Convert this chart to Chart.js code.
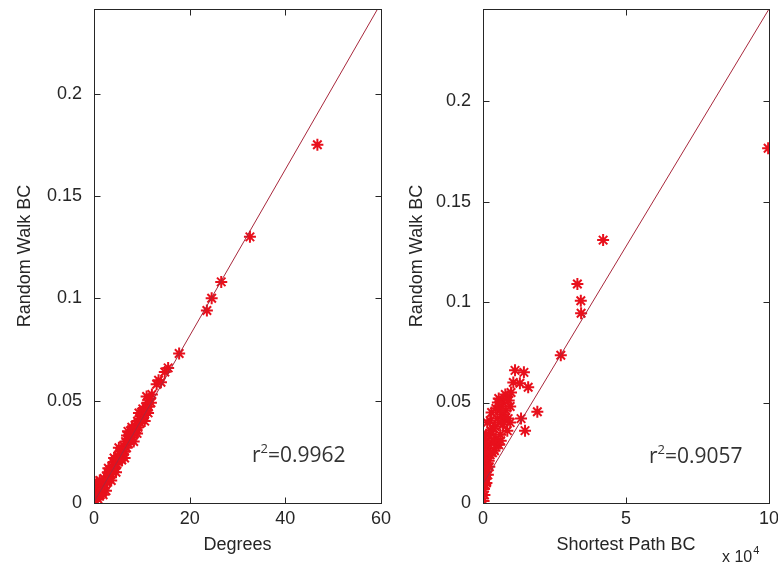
<!DOCTYPE html>
<html>
<head>
<meta charset="utf-8">
<script src="https://cdn.jsdelivr.net/npm/chart.js@4/dist/chart.umd.min.js"></script>
<style>
  body { margin: 0; background: #fff; }
  #wrap { position: relative; width: 778px; height: 564px; overflow: hidden; }
  canvas { position: absolute; top: 0; }
  #leftChart { left: 0; }
  #rightChart { left: 389px; }
</style>
</head>
<body>
<div id="wrap">
  <canvas id="leftChart" width="400" height="564"></canvas>
  <canvas id="rightChart" width="389" height="564"></canvas>
</div>
<script>
// left panel: degree vs random walk BC
const degrees = [
  0.1, 0.2, 0.3, 0.4, 0.5, 0.6, 0.8, 1.0, 1.1, 1.3,
  1.5, 1.6, 1.8, 2.0, 2.1, 2.3, 2.6, 2.7, 2.9, 3.2,
  3.3, 3.5, 3.8, 3.9, 4.1, 4.4, 4.5, 4.8, 5.0, 5.1,
  5.4, 5.6, 5.7, 6.0, 6.2, 6.3, 6.6, 6.8, 7.0, 7.2,
  7.4, 7.6, 7.8, 8.0, 8.2, 8.5, 8.6, 8.9, 9.1, 9.2,
  9.5, 9.7, 9.9, 10.1, 10.3, 10.5, 10.8, 10.9, 11.2, 11.4,
  11.6, 11.9, 12.1, 2.5, 3.0, 4.6, 5.2, 6.4, 7.1, 8.3,
  9.4, 10.6, 11.0, 1.2, 1.9, 3.6, 4.2, 5.8, 6.9, 7.9,
  9.0, 10.2, 11.3, 13.1, 13.5, 14.0, 14.8, 15.5, 17.8, 23.6,
  24.6, 26.6, 32.6, 46.7
];
const rwLeft = [
  0.003, 0.007, 0.001, 0.009, 0.004, 0.010, 0.002, 0.006, 0.009, 0.004,
  0.008, 0.005, 0.010, 0.007, 0.012, 0.009, 0.013, 0.010, 0.015, 0.012,
  0.016, 0.014, 0.018, 0.015, 0.020, 0.017, 0.021, 0.019, 0.023, 0.020,
  0.025, 0.022, 0.026, 0.024, 0.028, 0.025, 0.030, 0.027, 0.031, 0.029,
  0.033, 0.030, 0.034, 0.032, 0.036, 0.034, 0.038, 0.036, 0.040, 0.037,
  0.041, 0.039, 0.043, 0.041, 0.045, 0.043, 0.047, 0.045, 0.049, 0.047,
  0.051, 0.049, 0.053, 0.006, 0.017, 0.015, 0.027, 0.022, 0.035, 0.030,
  0.044, 0.040, 0.052, 0.011, 0.004, 0.011, 0.022, 0.021, 0.033, 0.037,
  0.034, 0.046, 0.044, 0.058, 0.060, 0.059, 0.064, 0.066, 0.073, 0.094,
  0.100, 0.108, 0.130, 0.175
];
const fitLeftX = [0, 60];
const fitLeftY = [0.0004, 0.2442];
const degreeTicks = [0, 20, 40, 60];

// right panel: shortest path BC (x 10^4) vs random walk BC
const spbc = [
  0.02, 0.05, 0.03, 0.08, 0.04, 0.10, 0.02, 0.15, 0.06, 0.20,
  0.12, 0.03, 0.25, 0.40, 0.15, 0.55, 0.30, 0.08, 0.45, 0.20,
  0.60, 0.85, 0.35, 0.70, 0.95, 0.25, 0.50, 0.65, 0.80, 0.45,
  0.95, 0.70, 0.55, 0.85, 0.98, 0.01, 0.07, 0.12, 0.01, 0.09,
  0.17, 0.05, 0.22, 0.33, 0.11, 0.48, 0.28, 0.38, 0.62, 0.15,
  0.42, 0.75, 0.58, 0.30, 0.88, 0.66, 0.52, 0.78, 0.90, 0.62,
  1.33, 1.47, 1.90, 1.06, 1.29, 1.58, 1.12, 1.43, 2.72, 3.43,
  3.42, 3.30, 4.20, 9.97
];
const rwRight = [
  0.001, 0.004, 0.007, 0.009, 0.012, 0.014, 0.016, 0.017, 0.019, 0.021,
  0.022, 0.024, 0.024, 0.026, 0.027, 0.029, 0.030, 0.031, 0.032, 0.034,
  0.034, 0.036, 0.037, 0.039, 0.040, 0.041, 0.042, 0.044, 0.046, 0.047,
  0.048, 0.050, 0.052, 0.053, 0.055, 0.010, 0.013, 0.010, 0.021, 0.025,
  0.014, 0.030, 0.018, 0.025, 0.034, 0.029, 0.036, 0.031, 0.031, 0.040,
  0.038, 0.042, 0.046, 0.045, 0.042, 0.048, 0.050, 0.054, 0.051, 0.040,
  0.042, 0.036, 0.0454, 0.060, 0.0596, 0.0576, 0.066, 0.065, 0.0735, 0.0944,
  0.1006, 0.109, 0.1308, 0.1765
];
const fitRightX = [0, 10];
const fitRightY = [0.0095, 0.2458];
const spbcTicks = [0, 5, 10];

const rwTicks = [0, 0.05, 0.1, 0.15, 0.2];

const axisColor = '#262626';
const axisFont = { family: 'Liberation Sans', size: 18 };

const boxPlugin = {
  id: 'box',
  afterDraw(chart, args, opts) {
    const { ctx, chartArea: a, scales } = chart;
    ctx.save();
    ctx.strokeStyle = axisColor;
    ctx.lineWidth = 1;
    const l = Math.round(a.left) + 0.5, t = Math.round(a.top) + 0.5;
    const r = Math.round(a.right) + 0.5, b = Math.round(a.bottom) + 0.5;
    ctx.strokeRect(l, t, r - l, b - t);
    const len = 6;
    ctx.beginPath();
    scales.x.ticks.forEach(tk => {
      const px = Math.round(scales.x.getPixelForValue(tk.value)) + 0.5;
      ctx.moveTo(px, b); ctx.lineTo(px, b - len);
      ctx.moveTo(px, t); ctx.lineTo(px, t + len);
    });
    scales.y.ticks.forEach(tk => {
      const py = Math.round(scales.y.getPixelForValue(tk.value)) + 0.5;
      ctx.moveTo(l, py); ctx.lineTo(l + len, py);
      ctx.moveTo(r, py); ctx.lineTo(r - len, py);
    });
    ctx.stroke();

    // r^2 annotation
    ctx.fillStyle = '#333';
    ctx.textBaseline = 'alphabetic';
    let x = a.left + opts.rsqDx, y = a.bottom - opts.rsqDy;
    ctx.font = '21px "Open Sans"';
    ctx.fillText('r', x, y);
    x += ctx.measureText('r').width;
    ctx.font = '13px "Open Sans"';
    ctx.fillText('2', x, y - 9);
    x += ctx.measureText('2').width;
    ctx.font = '21px "Open Sans"';
    ctx.fillText('=' + opts.rsq, x, y);

    // exponent label under x axis
    if (opts.exponent) {
      ctx.fillStyle = axisColor;
      ctx.font = '16px "Liberation Sans"';
      let ex = a.right - 47, ey = chart.height - 2;
      ctx.fillText('x 10', ex, ey);
      ex += ctx.measureText('x 10').width + 1;
      ctx.font = '11px "Liberation Sans"';
      ctx.fillText(opts.exponent, ex, ey - 8);
    }
    ctx.restore();
  }
};

function makeChart(id, xs, ys, fitX, fitY, xMax, yMax, xTicks, xTitle, yTitlePad, padRight, ann) {
  const ctx = document.getElementById(id).getContext('2d');
  return new Chart(ctx, {
    type: 'scatter',
    data: {
      datasets: [
        {
          type: 'line',
          data: fitX.map((v, i) => ({ x: v, y: fitY[i] })),
          borderColor: '#a8283c',
          borderWidth: 1,
          pointRadius: 0,
          fill: false,
          clip: 0
        },
        {
          data: xs.map((v, i) => ({ x: v, y: ys[i] })),
          pointStyle: 'star',
          pointRadius: 6,
          pointHoverRadius: 6,
          borderWidth: 2,
          borderColor: '#e8101c',
          backgroundColor: '#e8101c',
          clip: 0
        }
      ]
    },
    options: {
      responsive: false,
      animation: false,
      devicePixelRatio: 1,
      layout: { padding: { top: 9, right: padRight, bottom: 0, left: 0 } },
      plugins: {
        legend: { display: false },
        tooltip: { enabled: false },
        box: ann
      },
      scales: {
        x: {
          type: 'linear',
          min: 0,
          max: xMax,
          afterBuildTicks: s => { s.ticks = xTicks.map(v => ({ value: v })); },
          afterFit: s => { s.height = 61; s.paddingLeft = 0; s.paddingRight = 0; },
          grid: { display: false, drawTicks: false },
          border: { display: false },
          ticks: { color: axisColor, font: axisFont, padding: 5, maxRotation: 0, callback: v => String(v) },
          title: { display: true, text: xTitle, color: axisColor, font: axisFont, padding: { top: 0, bottom: 8 } }
        },
        y: {
          type: 'linear',
          min: 0,
          max: yMax,
          afterBuildTicks: s => { s.ticks = rwTicks.map(v => ({ value: v })); },
          afterFit: s => { s.width = 94; s.paddingTop = 0; s.paddingBottom = 0; },
          grid: { display: false, drawTicks: false },
          border: { display: false },
          ticks: { color: axisColor, font: axisFont, padding: 12, callback: v => String(v) },
          title: { display: true, text: 'Random Walk BC', color: axisColor, font: axisFont, padding: { top: yTitlePad, bottom: 0 } }
        }
      }
    },
    plugins: [boxPlugin]
  });
}

makeChart('leftChart', degrees, rwLeft, fitLeftX, fitLeftY, 60, 0.2413, degreeTicks,
  'Degrees', 14, 19, { rsq: '0.9962', rsqDx: 158, rsqDy: 41 });
makeChart('rightChart', spbc, rwRight, fitRightX, fitRightY, 10, 0.2458, spbcTicks,
  'Shortest Path BC', 17, 9, { rsq: '0.9057', rsqDx: 166, rsqDy: 40, exponent: '4' });
</script>
</body>
</html>
